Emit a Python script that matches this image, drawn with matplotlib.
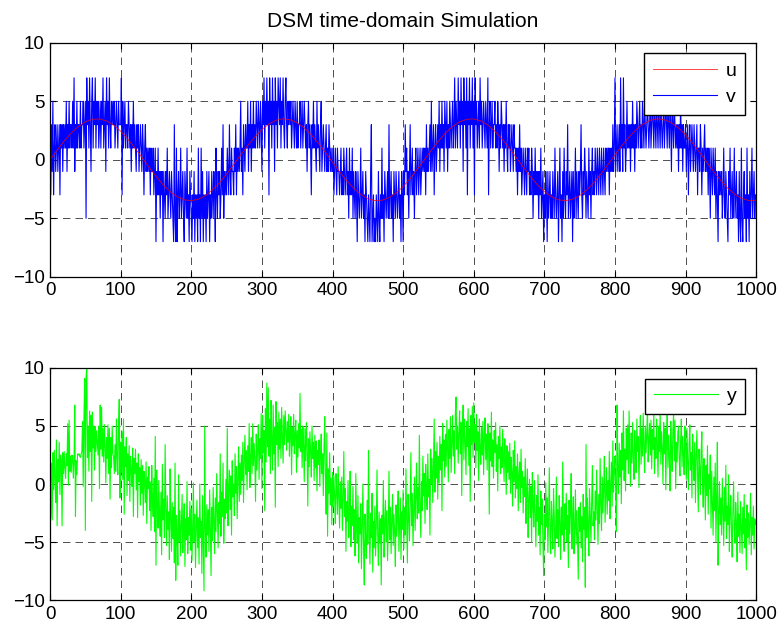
"""
plot.py
Delta-sigma modulator time-domain simulation: input u, quantised output v
(top) and quantiser input y (bottom). Writes out.png.
"""

import matplotlib
matplotlib.use("Agg")
import matplotlib.pyplot as plt
import numpy as np

plt.rcParams.update({
    "font.family": ["Liberation Sans", "DejaVu Sans"],
    "font.size": 13.5,
    "axes.linewidth": 0.9,
})

# ---- data -----------------------------------------------------------------
# input u, sampled every 10 steps (n = 0, 10, ..., 1000)
U_STEP = 10
U_VALUES = [
    0.0, 0.82, 1.60, 2.29, 2.84, 3.24, 3.46, 3.49, 3.32, 2.96,
    2.44, 1.78, 1.02, 0.21, -0.62, -1.41, -2.13, -2.72, -3.16, -3.42,
    -3.50, -3.37, -3.07, -2.57, -1.97, -1.22, -0.41, 0.41, 1.22, 1.95,
    2.58, 3.06, 3.38, 3.50, 3.42, 3.16, 2.72, 2.13, 1.41, 0.62,
    -0.21, -1.02, -1.78, -2.44, -2.96, -3.32, -3.49, -3.46, -3.24, -2.84,
    -2.29, -1.60, -0.82, 0.0, 0.82, 1.60, 2.29, 2.84, 3.24, 3.46,
    3.49, 3.32, 2.96, 2.44, 1.78, 1.02, 0.21, -0.62, -1.41, -2.13,
    -2.72, -3.16, -3.42, -3.50, -3.37, -3.07, -2.57, -1.97, -1.22, -0.41,
    0.41, 1.22, 1.95, 2.58, 3.06, 3.38, 3.50, 3.42, 3.16, 2.72,
    2.13, 1.41, 0.62, -0.21, -1.02, -1.78, -2.44, -2.96, -3.32, -3.49,
    -3.46,
]

# quantiser output v, one digit per sample: digit d -> level 2*d - 7
V_LEVEL_CODES = (
    "4253624534" "5345254535" "4546354645" "5464735464" "5546455645"
    "6175647536" "7465746564" "5646574563" "7564754656" "5645654655"
    "5726456455" "4654535464" "5435453454" "3542453434" "3424334234"
    "0324231323" "0321324123" "2132105104" "0231241231" "0321412032"
    "1021302120" "4120413021" "2031230213" "2132042132" "3124251323"
    "2432532433" "2435243434" "6342543544" "6354635464" "5465465465"
    "3657465756" "2756475637" "5647657465" "7546754656" "5645654654"
    "6455645645" "6545356454" "2546454364" "5435634543" "4534354343"
    "3423432433" "2342324323" "4231423241" "3213203212" "4123120321"
    "0210350120" "1021031021" "4120321231" "5123120321" "3212312032"
    "0325342313" "5234231342" "3423423434" "3425343453" "6345245345"
    "4635464536" "5463546545" "6457465475" "6475637564" "7265746574"
    "6275645647" "5645654654" "7256456455" "6454653546" "5453546435"
    "4534543544" "3424353423" "4324324342" "3243132423" "2313241230"
    "2132031231" "2132142123" "0241203142" "1325123123" "0312413213"
    "2352132431" "3214231342" "3243243243" "2432432434" "3424343534"
    "7345345374" "5374534645" "4535464535" "4654564546" "5465456545"
    "6456546546" "5465465456" "4565465465" "3654654545" "3546453544"
    "5345245345" "4354345244" "3542434534" "3424314324" "3241320323"
    "2312421321" "0324123124" "1231203104" "1023120412" "0312412312"
)

# quantiser input y, one value per sample
Y_VALUES = [
    3.3, -2.9, 1.8, -3.1, 2.7, -0.5, 2.9, 0.4, -1.6, 3.8,
    -3.6, 2.1, 0.2, 3.6, -0.9, 2.5, 1.9, -3.6, 2.7, 0.9,
    2.8, 1.4, 0.5, 2.6, 1.6, 5.2, -0.1, 5.5, 1.1, 2.4,
    1.0, 2.5, 2.3, 0.5, 2.1, 6.8, -2.8, 2.0, 0.8, 2.6,
    2.5, 2.6, 2.4, 2.3, 2.6, 2.8, 5.4, -0.2, 5.6, 9.1,
    -4.0, 9.2, 10.0, 2.3, 5.0, 1.1, 6.3, 2.8, 5.9, -1.5,
    6.2, 3.1, 5.0, 1.2, 4.9, 2.8, 4.6, 3.6, 2.5, 5.0,
    -0.4, 6.8, 3.0, 6.6, 2.4, 4.8, 1.9, 5.1, 3.3, 0.1,
    4.0, 2.2, 5.1, 0.9, 4.8, -1.3, 4.0, 1.4, 5.0, 2.6,
    2.4, 0.9, 3.4, 1.1, 5.6, 2.2, 0.8, 4.7, 7.3, -1.2,
    3.6, 1.0, 4.5, 0.4, 5.6, -2.6, 3.2, 1.5, 4.0, -1.0,
    2.6, 0.3, 3.3, -1.5, 2.4, 1.2, -0.2, 3.1, -2.8, 2.2,
    0.9, 3.0, -0.5, 1.8, -2.9, 2.6, 0.2, 1.4, -1.8, 2.1,
    -0.8, 1.6, -2.7, 1.1, 0.3, -1.6, 1.9, -3.4, 0.6, -0.4,
    1.5, -2.3, 0.2, -4.0, 1.6, -1.1, -2.8, 0.5, -4.1, 4.1,
    -7.0, 1.2, -1.6, -3.8, 0.3, -2.5, -4.5, -0.7, -6.1, 1.7,
    -3.1, -1.3, -4.6, 3.4, -2.2, -5.3, -1.0, -3.9, -2.4, -6.5,
    1.3, -3.0, -5.8, -1.6, -4.7, -2.0, -6.8, 1.8, -8.3, -2.7,
    -4.3, -7.0, 0.8, -5.0, -2.3, -6.2, -3.4, -0.9, -5.9, -3.6,
    -1.7, -7.1, -3.0, -4.8, 0.2, -6.0, -2.9, -4.4, -1.5, -5.7,
    -2.1, -6.6, -3.6, 0.1, -5.0, -2.6, -7.2, -3.8, -1.4, -5.5,
    -2.9, -6.9, 0.0, -4.6, -3.2, -7.7, -1.0, -5.2, -9.2, 5.0,
    -3.9, -6.3, -1.8, -4.4, -2.2, -5.8, -0.5, -3.7, -7.9, -2.0,
    -4.9, -0.3, -3.3, -6.0, -1.2, -4.1, 0.9, -2.5, -5.5, -1.6,
    -3.4, 2.6, -4.5, -0.7, -2.8, 1.8, -5.1, -1.3, -3.0, 0.4,
    -2.5, 4.8, -3.6, -0.4, 1.2, -2.2, 0.7, -4.4, 2.0, -1.1,
    0.0, -2.7, 2.6, -0.8, 1.5, -3.0, 0.6, 3.2, -1.5, 1.8,
    -0.9, 2.5, 0.3, 3.6, -1.6, 2.0, 4.2, 0.8, 2.9, -0.5,
    3.3, 1.1, 5.2, -0.3, 2.3, 4.0, 0.9, 5.2, 1.6, 3.5,
    2.0, -1.5, 4.3, 1.2, 3.0, 5.1, 0.4, 3.9, 2.2, 6.1,
    -0.4, 5.9, 2.7, 4.6, -2.3, 6.5, 1.9, 8.7, 3.2, 8.3,
    2.4, 5.6, 0.9, 7.2, 3.8, 1.2, 6.8, 2.6, 4.9, -2.0,
    7.1, 3.4, 5.3, 1.5, 6.2, 3.0, 5.6, 2.2, 6.6, 4.0,
    1.8, 5.9, 3.4, 6.3, 4.7, 2.9, 5.4, 3.6, 6.0, 2.4,
    4.4, 5.8, 0.8, 4.9, 3.3, 6.0, 2.6, 4.3, 5.5, 1.0,
    4.6, 2.3, 5.2, 3.1, 7.8, 2.8, 4.7, 1.4, 5.0, 3.3,
    0.2, 4.8, 2.0, 5.3, 3.4, -1.9, 3.9, 1.5, 4.5, 2.7,
    0.6, 5.0, 2.2, 3.6, 0.3, 4.2, 1.4, 3.7, -0.6, 2.9,
    1.7, 3.8, -0.2, 2.5, 4.3, 0.9, 2.6, -1.0, 3.2, 5.8,
    0.4, -2.6, 4.4, -4.5, 1.3, -0.8, 2.7, -1.8, 0.5, -3.5,
    1.0, -2.0, 0.7, -1.2, -3.4, 0.9, -0.6, -2.6, 1.5, -1.3,
    -3.8, 0.2, -2.1, 0.6, -4.0, -1.0, 2.8, -2.8, -0.4, -5.8,
    -1.5, -3.2, 0.3, -4.6, -2.4, 1.1, -5.4, -1.9, -3.6, -0.2,
    -4.8, -2.2, -6.2, 0.9, -3.4, -5.1, -1.0, -6.8, -2.9, -4.3,
    -1.7, -7.3, -3.5, 0.0, -5.6, -8.7, -2.6, -4.9, -6.4, -1.4,
    -5.2, 2.9, -3.8, -6.9, -2.5, -4.6, -0.8, -7.6, -3.2, -5.5,
    -1.9, -6.2, -3.7, 1.2, -4.4, -7.0, -2.4, -5.1, -3.0, -8.7,
    -2.7, -4.3, 0.3, -6.3, -3.5, -1.4, -5.0, -2.3, -6.6, -3.9,
    1.1, -4.8, -2.0, -6.0, -3.1, -0.9, -5.3, -2.6, -4.2, -7.1,
    -1.8, -4.5, -2.9, -0.6, -5.8, -3.4, -1.2, -6.5, -2.4, -3.9,
    -0.5, -5.6, -2.0, -4.4, 1.3, -3.1, -6.8, -0.9, -2.7, -4.9,
    -1.5, 2.7, -3.6, -0.8, -5.3, -2.2, 0.6, -4.0, -1.3, 1.8,
    -3.0, -0.3, -2.5, 4.2, -1.8, -4.6, 0.2, -2.3, 2.4, -1.0,
    0.9, -3.4, 1.7, -0.5, -2.2, 2.6, -1.1, 0.4, -4.4, 3.0,
    0.0, 2.2, -1.6, 1.4, 5.6, -0.7, 2.8, 0.5, 3.6, -1.3,
    2.4, 0.1, 4.1, 1.2, 3.4, -2.3, 5.2, 2.0, 3.8, 0.6,
    4.3, 1.5, 5.5, 2.8, 0.2, 4.7, 2.2, 5.8, 1.0, 3.5,
    5.9, 2.4, 4.6, 0.9, 6.1, 7.5, 3.0, 5.0, 1.8, 4.4,
    6.3, 2.6, 5.3, -1.0, 4.2, 6.8, 2.1, 5.6, 3.7, 0.8,
    5.4, 3.2, 6.5, 1.6, 4.8, -1.5, 5.9, 3.4, 6.7, 2.3,
    7.0, 3.6, 5.1, 1.4, 6.0, 2.9, 4.5, 0.3, 5.6, 3.1,
    1.7, 4.9, 2.5, 5.4, 0.8, 3.9, 5.7, 2.1, 4.3, 1.2,
    5.2, 3.4, -2.6, 4.4, 2.0, 6.2, 1.5, 3.8, 0.5, 4.6,
    2.7, 5.3, 1.1, 3.4, -0.6, 4.1, 2.2, 5.0, 0.9, 3.2,
    1.4, 4.7, 2.6, 0.2, 3.9, 1.8, -0.9, 3.3, 1.0, 2.8,
    0.4, 3.5, -0.8, 2.3, 1.0, -1.9, 2.9, 0.2, 3.7, -1.2,
    1.5, -0.4, 2.6, -2.3, 0.8, 1.9, -1.6, 3.0, -0.3, 1.1,
    -2.5, 0.6, -1.1, 2.2, -3.4, -0.5, 1.3, -4.6, -1.4, 0.4,
    -2.9, -0.2, -5.0, 1.0, -1.8, -3.7, 0.3, -2.4, -5.4, -1.0,
    -3.2, 0.8, -4.4, -2.0, -6.1, -0.6, -3.5, -1.3, -5.2, -7.9,
    -2.6, -4.8, 0.1, -3.7, -1.2, -5.9, -2.9, 1.4, -4.2, -6.0,
    -1.5, -3.4, -5.6, -0.4, -2.6, -6.3, -3.9, 0.6, -4.7, -2.2,
    -5.4, -1.0, -3.3, -6.5, -2.0, -4.4, 1.9, -3.6, -5.8, -1.7,
    -3.9, -0.8, -5.0, -2.7, -7.2, -1.4, -4.3, -2.5, 0.9, -5.6,
    -3.0, -1.1, -6.0, -3.8, -0.5, -5.2, -2.3, -4.6, -8.2, -2.0,
    -4.1, -1.6, -5.5, -2.8, -6.7, -0.9, -3.9, -2.0, -8.9, 3.4,
    -4.6, -1.2, -3.5, -6.2, -0.4, -2.8, -5.0, -1.7, 1.6, -3.6,
    -2.4, -4.8, -0.6, -3.1, 1.2, -2.0, -5.2, -0.9, -3.4, 2.2,
    -1.8, -4.0, 0.6, -2.5, -0.3, 2.4, -3.3, -1.1, 1.4, -2.6,
    0.3, -1.4, 2.8, -3.0, -0.2, 1.9, -1.9, 3.7, -0.7, 1.1,
    2.4, -0.5, -4.1, 6.8, 1.3, -0.8, 3.5, 0.6, 2.9, -1.7,
    4.4, 1.2, 6.3, 0.3, 3.0, -0.6, 4.8, 2.1, 5.1, 0.9,
    6.3, 2.6, -0.2, 4.4, 1.8, 5.3, 2.3, 0.4, 4.6, 3.1,
    1.0, 5.6, 2.8, 4.1, -0.3, 3.6, 5.9, 1.7, 4.8, 2.4,
    6.1, 3.2, 1.0, 5.0, 2.7, 4.3, 6.6, 1.9, 3.8, 5.2,
    2.5, 5.5, 1.3, 4.7, 3.0, 6.2, 0.9, 4.0, 2.2, 5.6,
    3.4, 0.6, 5.0, 2.8, 6.4, 1.7, 4.5, 3.1, 0.0, 5.3,
    2.6, 4.8, -0.5, 3.9, 6.0, 1.4, 4.2, 2.3, -0.6, 5.4,
    3.0, 1.1, 4.6, 6.1, 2.0, 5.5, -0.4, 3.6, 1.9, 4.4,
    5.0, 2.2, 0.7, 3.8, 5.6, 1.5, 4.1, 2.6, 0.8, 5.0,
    3.3, 0.4, 4.8, 1.9, -0.5, 3.4, 5.1, 1.2, 2.7, -1.2,
    4.3, 2.0, 0.3, 3.6, -1.6, 2.4, 4.6, 0.8, -2.4, 3.0,
    1.4, -0.9, 2.7, 4.5, 0.1, -2.0, 2.2, 0.5, -3.1, 1.6,
    -1.0, 3.3, -2.6, 0.8, -0.4, 2.5, -3.8, 1.1, -1.8, -4.4,
    0.6, -2.3, 1.8, -5.0, -1.1, 3.6, -7.0, -2.7, 0.2, -3.5,
    -1.2, -4.4, 0.5, -2.6, -5.3, -0.3, -3.2, 1.6, -4.7, -1.9,
    -3.5, 0.8, -5.8, -2.4, -1.0, -4.0, -6.3, -2.2, 0.2, -3.8,
    -5.1, -1.6, -3.3, -6.7, -0.7, -4.5, -2.6, -5.9, -1.5, -3.6,
    -6.0, -2.0, -4.3, -0.9, -5.5, -3.0, -7.4, -1.8, -4.6, -2.5,
    -5.2, -3.3, -0.8, -6.1, -2.9, -4.4, -1.9, -5.6, -3.0, -3.5,
]

TITLE = "DSM time-domain Simulation"
X_TICKS = [0, 100, 200, 300, 400, 500, 600, 700, 800, 900, 1000]
Y_TICKS = [-10, -5, 0, 5, 10]


def _style(ax):
    ax.set_xlim(0, 1000)
    ax.set_ylim(-10, 10)
    ax.set_xticks(X_TICKS)
    ax.set_yticks(Y_TICKS)
    ax.tick_params(direction="in", top=True, right=True, length=4,
                   width=0.8, pad=4, labelsize=13.5)
    ax.grid(True, color="0.2", lw=0.6, linestyle=(0, (9, 6)))
    for s in ax.spines.values():
        s.set_zorder(5)


def _legend(ax, handles, labels):
    leg = ax.legend(handles, labels, loc="upper right", handlelength=3.3,
                    fontsize=14, fancybox=False, framealpha=1,
                    edgecolor="black", borderaxespad=0.55,
                    handletextpad=0.45, borderpad=0.45, labelspacing=0.45)
    leg.get_frame().set_linewidth(1.0)
    leg.set_zorder(10)


def main():
    u = np.array(U_VALUES)
    n_u = np.arange(len(u)) * U_STEP
    v = np.array([2 * int(c) - 7 for c in V_LEVEL_CODES])
    y = np.array(Y_VALUES)
    n = np.arange(len(v))

    fig = plt.figure(figsize=(7.82, 6.29), dpi=100)
    ax1 = fig.add_axes([0.064, 0.560, 0.903, 0.372])
    ax2 = fig.add_axes([0.064, 0.046, 0.903, 0.369])

    lv, = ax1.plot(n, v, color="#0000FF", lw=0.8, zorder=2)
    lu, = ax1.plot(n_u, u, color="#FF0000", lw=0.6, alpha=0.85, zorder=3)
    _style(ax1)
    ax1.set_title(TITLE, fontsize=15, pad=11)
    _legend(ax1, [lu, lv], ["u", "v"])

    ly, = ax2.plot(np.arange(len(y)), y, color="#00FF00", lw=0.8)
    _style(ax2)
    _legend(ax2, [ly], ["y"])

    fig.savefig("out.png", dpi=100)
    plt.close(fig)


if __name__ == "__main__":
    main()
